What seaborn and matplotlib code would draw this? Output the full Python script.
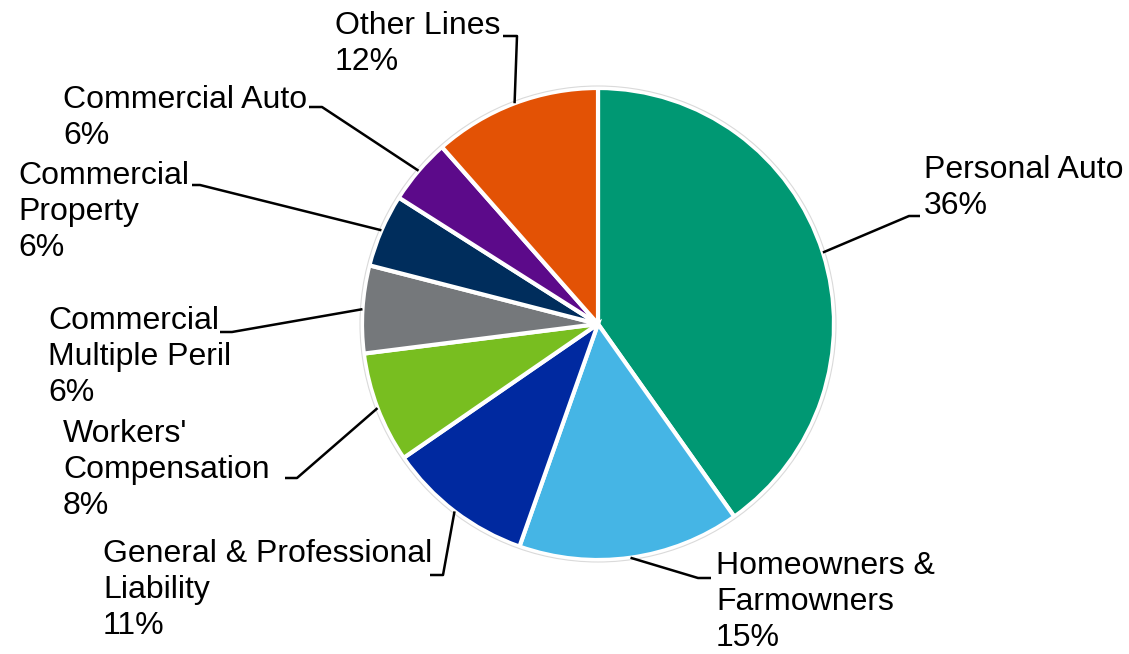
import matplotlib
matplotlib.use("Agg")
import matplotlib.pyplot as plt
from matplotlib.patches import Circle
import numpy as np
import seaborn as sns

sns.set_theme(style="white")
plt.rcParams['font.family'] = ['Liberation Sans', 'DejaVu Sans']

# ---- data ----
categories = ["Personal Auto", "Homeowners &\nFarmowners", "General & Professional\nLiability",
              "Workers'\nCompensation", "Commercial\nMultiple Peril", "Commercial\nProperty",
              "Commercial Auto", "Other Lines"]
slice_values = [40.2, 15.2, 10.0, 7.6, 6.0, 5.0, 4.5, 11.5]   # slice sizes as drawn
label_pcts = ["36%", "15%", "11%", "8%", "6%", "6%", "6%", "12%"]  # printed labels
colors = ["#009873", "#45B5E5", "#0029A0", "#78BE20", "#75787B", "#002D5C", "#5C0A8A", "#E35205"]

# ---- layout (pixel space, y measured from top) ----
W, H = 1129, 654
cx, cy, R = 598, 324, 236
label_xy = [(924, 155), (716, 551), (103, 539), (63, 419), (48, 306), (18, 161), (63, 85), (335, 11)]
elbows = [((909, 216), (920, 216)), ((698, 578), (711, 578)), ((443, 575), (430, 575)),
          ((297, 478), (285, 478)), ((232, 332), (220, 332)), ((200, 185), (192, 185)),
          ((322, 107), (309, 107)), ((517, 36), (503, 36))]

fig = plt.figure(figsize=(W / 100, H / 100), dpi=100)
ax = fig.add_axes([0, 0, 1, 1])

wedges, _ = ax.pie(slice_values, colors=colors, startangle=90, counterclock=False,
                   center=(cx, H - cy), radius=R,
                   wedgeprops=dict(edgecolor="white", linewidth=3))
ax.add_patch(Circle((cx, H - cy), R + 2, fill=False, edgecolor="#dadada", linewidth=0.8))
ax.set_xlim(0, W)
ax.set_ylim(0, H)
ax.set_aspect("equal")
ax.axis("off")

for w, cat, pct, (lx, ly), (elb, end) in zip(wedges, categories, label_pcts, label_xy, elbows):
    mid = np.deg2rad((w.theta1 + w.theta2) / 2)
    sx = cx + R * np.cos(mid)
    sy = (H - cy) + R * np.sin(mid)
    ax.plot([sx, elb[0], end[0]], [sy, H - elb[1], H - end[1]], color="black", lw=1.8,
            solid_capstyle="butt", zorder=5)
    ax.text(lx, H - ly, f"{cat}\n{pct}", ha="left", va="top", fontsize=23,
            linespacing=1.27, color="black")

fig.savefig("out.png", dpi=100)
